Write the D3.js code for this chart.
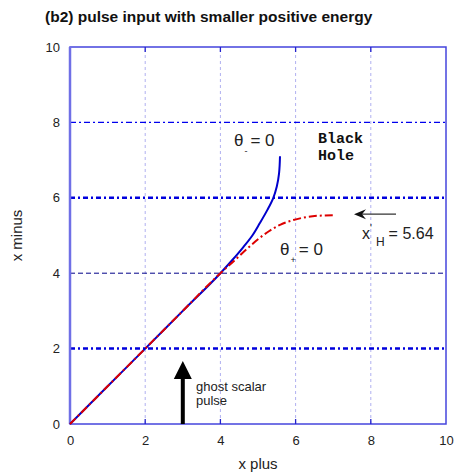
<!DOCTYPE html>
<html><head><meta charset="utf-8">
<script src="https://cdn.jsdelivr.net/npm/d3@7"></script>
<style>body{margin:0;background:#fff}svg{display:block}</style>
</head><body>
<svg id="c" width="455" height="473" font-family="Liberation Sans, Arial, sans-serif"></svg>
<script>
const xTicks = [0, 2, 4, 6, 8, 10];
const yTicks = [0, 2, 4, 6, 8, 10];
// theta_- = 0 curve (blue)
const blueX = [0, 1, 2, 3, 4, 4.3, 4.6, 4.85, 5.05, 5.25, 5.4, 5.5, 5.56, 5.585];
const blueY = [0, 1, 2, 3, 4, 4.33, 4.68, 5.0, 5.33, 5.68, 5.98, 6.3, 6.65, 7.1];
// theta_+ = 0 curve (red)
const redX = [0, 1, 2, 3, 4, 4.4, 4.7, 5.0, 5.3, 5.6, 5.94, 6.3, 6.7, 7.05];
const redY = [0, 1, 2, 3, 4, 4.36, 4.64, 4.9, 5.12, 5.29, 5.41, 5.49, 5.53, 5.54];
const pulseX = 3;
const xH = 5.64;

const svg = d3.select("#c");
const x = d3.scaleLinear().domain([0, 10]).range([70, 446]);
const y = d3.scaleLinear().domain([0, 10]).range([424, 47]);

svg.append("text").attr("x", 45).attr("y", 22).attr("font-size", 15.5).attr("font-weight", "bold")
  .attr("fill", "#111").text("(b2) pulse input with smaller positive energy");

// vertical grid
const g = svg.append("g");
xTicks.filter(v => v > 0 && v < 10).forEach(v => {
  g.append("line").attr("x1", x(v)).attr("x2", x(v)).attr("y1", y(0)).attr("y2", y(10))
    .attr("stroke", "#b0b0f0").attr("stroke-width", 1).attr("stroke-dasharray", "3,3");
});
// horizontal grid
const hStyles = {2: {c: "#0000dd", w: 2.5, d: "5,3,2,3"}, 4: {c: "#000088", w: 1, d: "5,3"},
  6: {c: "#0000dd", w: 2.5, d: "5,3,2,3"}, 8: {c: "#0000ee", w: 1.3, d: "6,3,2,3"}};
yTicks.filter(v => v > 0 && v < 10).forEach(v => {
  const s = hStyles[v];
  g.append("line").attr("x1", x(0)).attr("x2", x(10)).attr("y1", y(v)).attr("y2", y(v))
    .attr("stroke", s.c).attr("stroke-width", s.w).attr("stroke-dasharray", s.d);
});

// border
svg.append("rect").attr("x", x(0)).attr("y", y(10)).attr("width", x(10) - x(0)).attr("height", y(0) - y(10))
  .attr("fill", "none").attr("stroke", "#4444dd").attr("stroke-width", 1.5);
svg.append("line").attr("x1", x(0)).attr("x2", x(0)).attr("y1", y(0)).attr("y2", y(10))
  .attr("stroke", "#6f6fe6").attr("stroke-width", 2.5);

// ticks via axes
const xb = d3.axisBottom(x).tickValues(xTicks).tickSize(0).tickPadding(12);
const axB = svg.append("g").attr("transform", `translate(0,${y(0)})`).call(xb);
axB.select(".domain").remove();
axB.selectAll("text").attr("font-size", 13).attr("fill", "#222").style("font-family", "Liberation Sans, Arial, sans-serif");
const yl = d3.axisLeft(y).tickValues(yTicks).tickSize(0).tickPadding(10);
const axL = svg.append("g").attr("transform", `translate(${x(0)},0)`).call(yl);
axL.select(".domain").remove();
axL.selectAll("text").attr("font-size", 13).attr("fill", "#222").style("font-family", "Liberation Sans, Arial, sans-serif");
xTicks.filter(v => v > 0 && v < 10).forEach(v => {
  svg.append("line").attr("x1", x(v)).attr("x2", x(v)).attr("y1", y(0)).attr("y2", y(0) - 5).attr("stroke", "#2222cc").attr("stroke-width", 1.3);
  svg.append("line").attr("x1", x(v)).attr("x2", x(v)).attr("y1", y(10)).attr("y2", y(10) + 5).attr("stroke", "#2222cc").attr("stroke-width", 1.3);
});

svg.append("text").attr("x", x(5)).attr("y", 469).attr("text-anchor", "middle").attr("font-size", 15).attr("fill", "#222").text("x plus");
svg.append("text").attr("transform", `translate(22,${y(5)}) rotate(-90)`).attr("text-anchor", "middle").attr("font-size", 15).attr("fill", "#222").text("x minus");

// curves
const lineY = d3.line().x(d => x(d[0])).y(d => y(d[1])).curve(d3.curveMonotoneY);
const lineX = d3.line().x(d => x(d[0])).y(d => y(d[1])).curve(d3.curveMonotoneX);
svg.append("path").attr("d", lineY(blueX.map((v, i) => [v, blueY[i]]))).attr("fill", "none")
  .attr("stroke", "#0000cc").attr("stroke-width", 2);
svg.append("path").attr("d", lineX(redX.map((v, i) => [v, redY[i]]))).attr("fill", "none")
  .attr("stroke", "#dd0000").attr("stroke-width", 2).attr("stroke-dasharray", "8,3,2,3");

// labels
function theta(xp, yp, sub) {
  const t = svg.append("text").attr("x", xp).attr("y", yp).attr("font-size", 17).attr("fill", "#222");
  t.append("tspan").text("θ");
  t.append("tspan").attr("dy", 8).attr("dx", 1).attr("font-size", 9).text(sub);
  t.append("tspan").attr("dy", -8).attr("dx", 3).text("= 0");
}
theta(234, 146, "-");
theta(280, 255, "+");

const bh = svg.append("text").style("font-family", "Liberation Mono, Courier New, monospace").attr("font-weight", "bold")
  .attr("font-size", 15).attr("fill", "#111");
bh.append("tspan").attr("x", 318).attr("y", 143).text("Black");
bh.append("tspan").attr("x", 318).attr("y", 160).text("Hole");

// x'_H arrow
svg.append("line").attr("x1", 396).attr("x2", 360).attr("y1", y(5.54) - 1).attr("y2", y(5.54) - 1).attr("stroke", "#333").attr("stroke-width", 1.3);
svg.append("path").attr("d", `M354,${y(5.54) - 1} l12,-5 l-4,5 l4,5 z`).attr("fill", "#111");
const xh = svg.append("text").attr("x", 362).attr("y", 239).attr("font-size", 16).attr("fill", "#222");
xh.append("tspan").text("x");
xh.append("tspan").attr("font-size", 10).attr("dy", -7).text("'");
xh.append("tspan").attr("font-size", 12).attr("dx", 4).attr("dy", 14).text("H");
xh.append("tspan").attr("dy", -7).attr("dx", 4).text("= " + xH.toFixed(2));

// ghost pulse arrow
svg.append("line").attr("x1", x(pulseX)).attr("x2", x(pulseX)).attr("y1", y(0)).attr("y2", 376).attr("stroke", "#000").attr("stroke-width", 4);
svg.append("path").attr("d", `M${x(pulseX)},361 L${x(pulseX) + 9},379 L${x(pulseX) - 9},379 Z`).attr("fill", "#000");
svg.append("text").attr("x", 196).attr("y", 391).attr("font-size", 13).attr("fill", "#222").text("ghost scalar");
svg.append("text").attr("x", 196).attr("y", 405).attr("font-size", 13).attr("fill", "#222").text("pulse");
</script>
</body></html>
